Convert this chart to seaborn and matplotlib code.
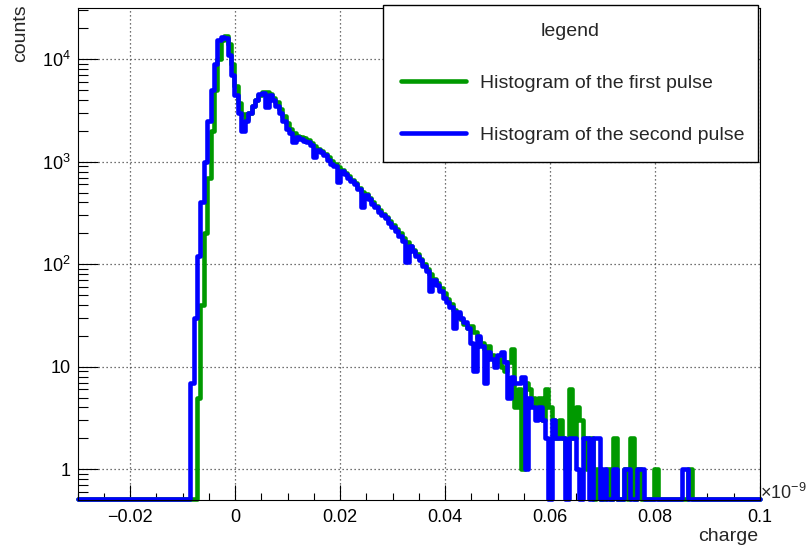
import numpy as np
import pandas as pd
import matplotlib
matplotlib.use("Agg")
import matplotlib.pyplot as plt
import seaborn as sns
from matplotlib.ticker import FixedLocator, MultipleLocator, LogLocator, FixedFormatter, NullFormatter

# ---------------- data ----------------
charge_min, charge_max, n_bins = -0.03, 0.1, 200   # x axis in units of 1e-9

first_pulse = [
    0, 0, 0, 0, 0, 0, 0, 0, 0, 0,
    0, 0, 0, 0, 0, 0, 0, 0, 0, 0,
    0, 0, 0, 0, 0, 0, 0, 0, 0, 0,
    0, 0, 0, 0, 0, 5, 40, 200, 700, 2000,
    5000, 10000, 15500, 17000, 14000, 9000, 5500, 3700, 2900, 2600,
    3000, 3500, 4000, 4500, 4800, 4800, 4600, 4200, 3800, 3300,
    2800, 2400, 2100, 1900, 1800, 1750, 1700, 1620, 1520, 1420,
    1330, 1260, 1180, 1100, 1020, 950, 880, 830, 780, 720,
    670, 620, 560, 510, 480, 440, 400, 370, 340, 310,
    290, 265, 240, 220, 200, 180, 165, 150, 138, 125,
    112, 100, 90, 80, 72, 66, 58, 52, 46, 41,
    36, 33, 29, 26, 24, 25, 22, 19, 17, 15,
    16, 13, 11, 12, 10, 9, 11, 15, 4, 6,
    1, 7, 6, 5, 4, 5, 3, 6, 4, 3,
    2, 3, 2, 1, 6, 2, 4, 3, 2, 1,
    2, 0, 1, 0, 0, 1, 0, 2, 0, 0,
    1, 0, 2, 0, 1, 0, 0, 0, 0, 1,
    0, 0, 0, 0, 0, 0, 0, 0, 0, 1,
    0, 0, 0, 0, 0, 0, 0, 0, 0, 0,
    0, 0, 0, 0, 0, 0, 0, 0, 0, 0,
]

second_pulse = [
    0, 0, 0, 0, 0, 0, 0, 0, 0, 0,
    0, 0, 0, 0, 0, 0, 0, 0, 0, 0,
    0, 0, 0, 0, 0, 0, 0, 0, 0, 0,
    0, 0, 0, 7, 30, 120, 400, 1000, 2500, 5000,
    9000, 15500, 16500, 16000, 11000, 7000, 4500, 3000, 2000, 2500,
    3000, 3500, 4000, 4600, 4700, 3400, 4500, 4000, 3500, 3000,
    2500, 2100, 1900, 1550, 1750, 1650, 1600, 1550, 1450, 1100,
    1300, 1250, 1150, 1050, 950, 900, 640, 820, 760, 700,
    650, 600, 540, 360, 470, 430, 390, 360, 320, 300,
    280, 250, 230, 210, 190, 170, 105, 150, 135, 120,
    110, 95, 85, 55, 70, 62, 55, 47, 43, 38,
    24, 34, 30, 27, 24, 17, 9, 20, 16, 7,
    14, 12, 10, 13, 14, 11, 5, 8, 7, 7,
    8, 1, 5, 4, 3, 4, 3, 2, 0, 3,
    2, 2, 2, 0, 2, 2, 1, 0, 2, 2,
    0, 2, 2, 0, 1, 0, 0, 1, 0, 0,
    1, 1, 0, 0, 1, 1, 0, 0, 0, 0,
    0, 0, 0, 0, 0, 0, 0, 1, 1, 0,
    0, 0, 0, 0, 0, 0, 0, 0, 0, 0,
    0, 0, 0, 0, 0, 0, 0, 0, 0, 0,
]

series_labels = ["Histogram of the first pulse", "Histogram of the second pulse"]
series_colors = ["#009900", "#0000ff"]

x_ticks = [-0.02, 0, 0.02, 0.04, 0.06, 0.08, 0.1]
x_tick_labels = ["\u22120.02", "0", "0.02", "0.04", "0.06", "0.08", "0.1"]
y_ticks = [1, 10, 100, 1000, 10000]
y_tick_labels = ["1", "10", "$10^{2}$", "$10^{3}$", "$10^{4}$"]
y_min, y_max = 0.5, 31600

# ---------------- style ----------------
sns.set_style("ticks")
plt.rcParams["font.family"] = ["Liberation Sans", "DejaVu Sans"]
plt.rcParams["mathtext.fontset"] = "custom"
plt.rcParams["mathtext.rm"] = "Liberation Sans"
plt.rcParams["mathtext.it"] = "Liberation Sans:italic"
plt.rcParams["mathtext.bf"] = "Liberation Sans:bold"

W, H = 806, 546
fig = plt.figure(figsize=(W / 100, H / 100), dpi=100)
ax = fig.add_axes([77.5 / W, 46 / H, 682.5 / W, 492 / H])

edges = np.linspace(charge_min, charge_max, n_bins + 1)
centers = 0.5 * (edges[:-1] + edges[1:])

df = pd.DataFrame({
    "charge": np.tile(centers, 2),
    "counts": np.r_[first_pulse, second_pulse].astype(float),
    "pulse": np.repeat(series_labels, n_bins),
})
# empty bins are drawn just above the bottom of the frame, as ROOT does
df["shown"] = np.where(df["counts"] > 0, df["counts"], y_min * 1.02)

for label, color in zip(series_labels, series_colors):
    sub = df[df["pulse"] == label]
    sns.histplot(data=sub, x="charge", weights="shown", bins=n_bins,
                 binrange=(charge_min, charge_max),
                 element="step", fill=False, color=color, linewidth=3.3,
                 label=label, ax=ax, clip_on=False)

ax.set_yscale("log")
ax.set_xlim(charge_min, charge_max)
ax.set_ylim(y_min, y_max)

# ticks
ax.xaxis.set_major_locator(FixedLocator(x_ticks))
ax.xaxis.set_major_formatter(FixedFormatter(x_tick_labels))
ax.xaxis.set_minor_locator(MultipleLocator(0.005))
ax.yaxis.set_major_locator(FixedLocator(y_ticks))
ax.yaxis.set_major_formatter(FixedFormatter(y_tick_labels))
ax.yaxis.set_minor_locator(LogLocator(base=10, subs=np.arange(2, 10)))
ax.yaxis.set_minor_formatter(NullFormatter())

ax.tick_params(axis="both", which="both", direction="in", top=False, right=False,
               colors="black", width=0.8, labelsize=13)
ax.tick_params(axis="x", which="major", length=10.8, pad=6.5)
ax.tick_params(axis="x", which="minor", length=5.4)
ax.tick_params(axis="y", which="major", length=14.4, pad=5)
ax.tick_params(axis="y", which="minor", length=7.2)

for s in ax.spines.values():
    s.set_color("black")
    s.set_linewidth(0.8)

ax.grid(True, which="major", color="#444444", linestyle=(0, (1, 2.2)), linewidth=0.9)
ax.set_axisbelow(True)

# axis titles (ROOT style: at the axis ends)
ax.set_xlabel("charge", loc="right", fontsize=14)
ax.xaxis.set_label_coords(0.997, -0.056)
ax.set_ylabel("counts", loc="top", fontsize=14)
ax.yaxis.set_label_coords(-0.071, 1.007)

fig.text(760 / W, 1 - 493 / H, "\u00d710$^{\\mathregular{\u22129}}$", fontsize=13,
         ha="left", va="center")

leg = ax.legend(loc="upper left", bbox_to_anchor=(383 / W, 0, 375 / W, 1 - 5 / H),
                bbox_transform=fig.transFigure, mode="expand", borderaxespad=0,
                title="legend", fontsize=14, title_fontsize=14, frameon=True,
                fancybox=False, edgecolor="black", framealpha=1, handlelength=3.3,
                handletextpad=0.75, borderpad=0.95, labelspacing=1.75)
leg.get_frame().set_linewidth(1.0)

fig.savefig("out.png", dpi=100)
